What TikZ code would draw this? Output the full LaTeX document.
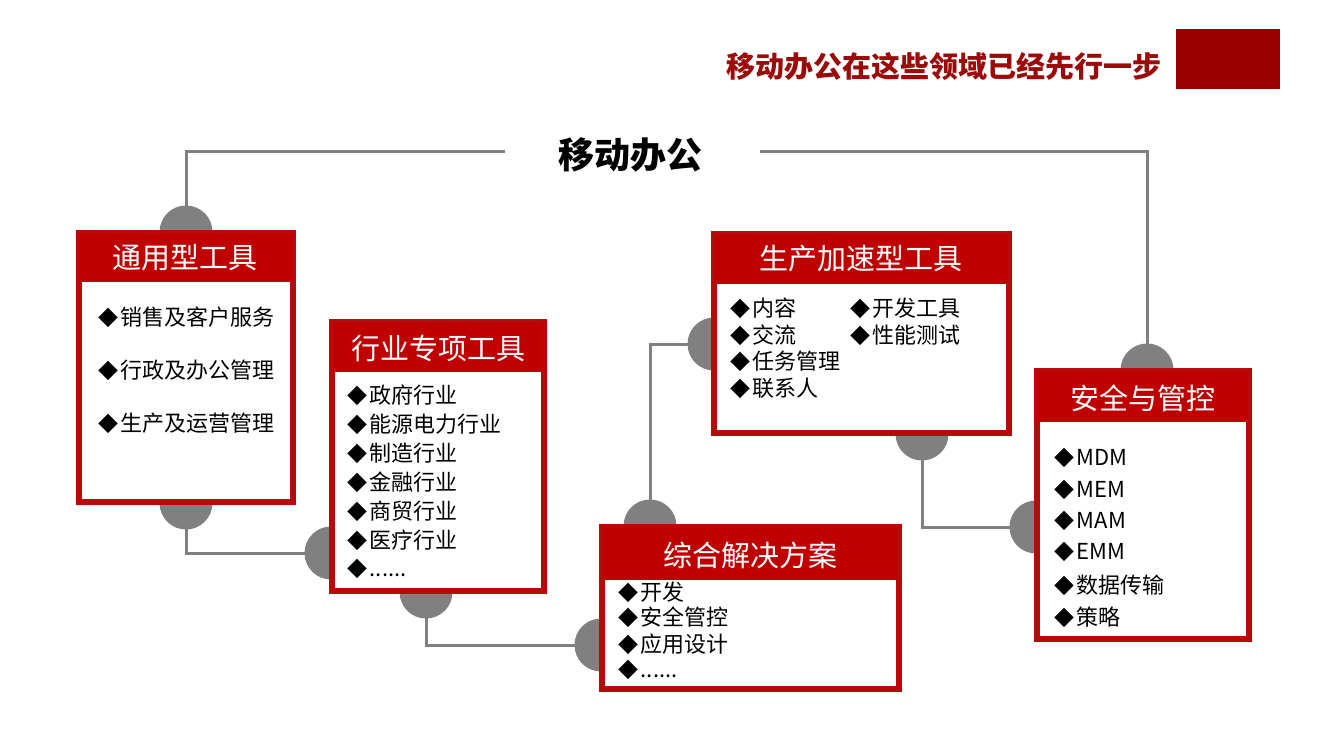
\documentclass[tikz,border=0pt]{standalone}
\usepackage{fontspec}
\setmainfont{Noto Sans CJK SC}
\usetikzlibrary{shadows,backgrounds}
\definecolor{hdr}{HTML}{C00000}
\definecolor{brd}{HTML}{B80A0A}
\definecolor{gry}{HTML}{808080}
\definecolor{ttl}{HTML}{9C0A0A}
\definecolor{blk}{HTML}{990000}
\newcommand{\dm}{{\fontsize{10pt}{12pt}\selectfont ◆}\hspace{1.2pt}}
\begin{document}
\begin{tikzpicture}[x=0.5pt,y=-0.5pt,
  conn/.style={draw=gry, line width=1.5pt},
  dot/.style={circle, fill=gry, minimum size=26.5pt, inner sep=0},
  box/.style={draw=brd, line width=1.8pt, fill=white, inner sep=0, drop shadow={opacity=0.25, shadow xshift=0.8pt, shadow yshift=-0.8pt}},
  hdrtext/.style={text=white, font=\fontsize{14.5pt}{17pt}\selectfont, inner sep=0},
  item/.style={anchor=west, inner sep=0, font=\fontsize{11pt}{13pt}\selectfont},
]
\useasboundingbox (0,0) rectangle (1320,743);

% title area
\node[fill=blk, minimum width=52pt, minimum height=30pt, inner sep=0] (bar) at (1228,59) {};
\node[font=\bfseries\fontsize{14.5pt}{17pt}\selectfont, text=ttl, inner sep=0] (ttl) at (943.5,66) {移动办公在这些领域已经先行一步};
\node[font=\bfseries\fontsize{18pt}{21pt}\selectfont, inner sep=0] (mt) at (630,155) {移动办公};
\coordinate (la) at (505,152);
\coordinate (lb) at (760,152);

% circles
\node[dot] (c1t) at (186,232) {};
\node[dot] (c1b) at (186,503) {};
\node[dot] (c2l) at (331,553) {};
\node[dot] (c2b) at (426,592) {};
\node[dot] (c3t) at (650,526) {};
\node[dot] (c3l) at (601,645) {};
\node[dot] (c4l) at (714,344) {};
\node[dot] (c4b) at (922,434) {};
\node[dot] (c5t) at (1147,370) {};
\node[dot] (c5l) at (1036,527) {};

% connectors
\begin{pgfonlayer}{background}
\draw[conn] (c1t.center) |- (la);
\draw[conn] (c5t.center) |- (lb);
\draw[conn] (c1b.center) |- (c2l.center);
\draw[conn] (c2b.center) |- (c3l.center);
\draw[conn] (c3t.center) |- (c4l.center);
\draw[conn] (c4b.center) |- (c5l.center);
\end{pgfonlayer}

% boxes
\node[box, minimum width=106pt, minimum height=133.5pt] (b1) at (186,367.5) {};
\fill[hdr] (b1.north west) rectangle (b1.north east |- 0,282);
\draw[brd, line width=1.8pt] (b1.north west) rectangle (b1.south east);
\node[hdrtext] (h1) at (185,258) {通用型工具};

\node[box, minimum width=105pt, minimum height=133.5pt] (b2) at (438,456.5) {};
\fill[hdr] (b2.north west) rectangle (b2.north east |- 0,372);
\draw[brd, line width=1.8pt] (b2.north west) rectangle (b2.south east);
\node[hdrtext] (h2) at (438,348) {行业专项工具};

\node[box, minimum width=147.5pt, minimum height=80pt] (b3) at (750.5,608) {};
\fill[hdr] (b3.north west) rectangle (b3.north east |- 0,580);
\draw[brd, line width=1.8pt] (b3.north west) rectangle (b3.south east);
\node[hdrtext] (h3) at (750,555) {综合解决方案};

\node[box, minimum width=146.5pt, minimum height=98.5pt] (b4) at (861.5,333.5) {};
\fill[hdr] (b4.north west) rectangle (b4.north east |- 0,284);
\draw[brd, line width=1.8pt] (b4.north west) rectangle (b4.south east);
\node[hdrtext] (h4) at (861,259) {生产加速型工具};

\node[box, minimum width=105pt, minimum height=133pt] (b5) at (1143,505) {};
\fill[hdr] (b5.north west) rectangle (b5.north east |- 0,422);
\draw[brd, line width=1.8pt] (b5.north west) rectangle (b5.south east);
\node[hdrtext] (h5) at (1143,398) {安全与管控};

% items
\node[item] (i11) at (98,317) {\dm 销售及客户服务};
\node[item] (i12) at (98,370) {\dm 行政及办公管理};
\node[item] (i13) at (98,423) {\dm 生产及运营管理};

\node[item] (i21) at (347,395) {\dm 政府行业};
\node[item] (i22) at (347,424) {\dm 能源电力行业};
\node[item] (i23) at (347,453) {\dm 制造行业};
\node[item] (i24) at (347,482) {\dm 金融行业};
\node[item] (i25) at (347,511) {\dm 商贸行业};
\node[item] (i26) at (347,540) {\dm 医疗行业};
\node[item] (i27) at (347,569) {\dm ......};

\node[item] (i31) at (618,592) {\dm 开发};
\node[item] (i32) at (618,617) {\dm 安全管控};
\node[item] (i33) at (618,644) {\dm 应用设计};
\node[item] (i34) at (618,670) {\dm ......};

\node[item] (i41) at (730,308) {\dm 内容};
\node[item] (i42) at (730,335) {\dm 交流};
\node[item] (i43) at (730,361) {\dm 任务管理};
\node[item] (i44) at (730,388) {\dm 联系人};
\node[item] (i45) at (850,308) {\dm 开发工具};
\node[item] (i46) at (850,335) {\dm 性能测试};

\node[item] (i51) at (1054,458) {\dm MDM};
\node[item] (i52) at (1054,490) {\dm MEM};
\node[item] (i53) at (1054,521) {\dm MAM};
\node[item] (i54) at (1054,552) {\dm EMM};
\node[item] (i55) at (1054,585) {\dm 数据传输};
\node[item] (i56) at (1054,617) {\dm 策略};
\end{tikzpicture}
\end{document}
